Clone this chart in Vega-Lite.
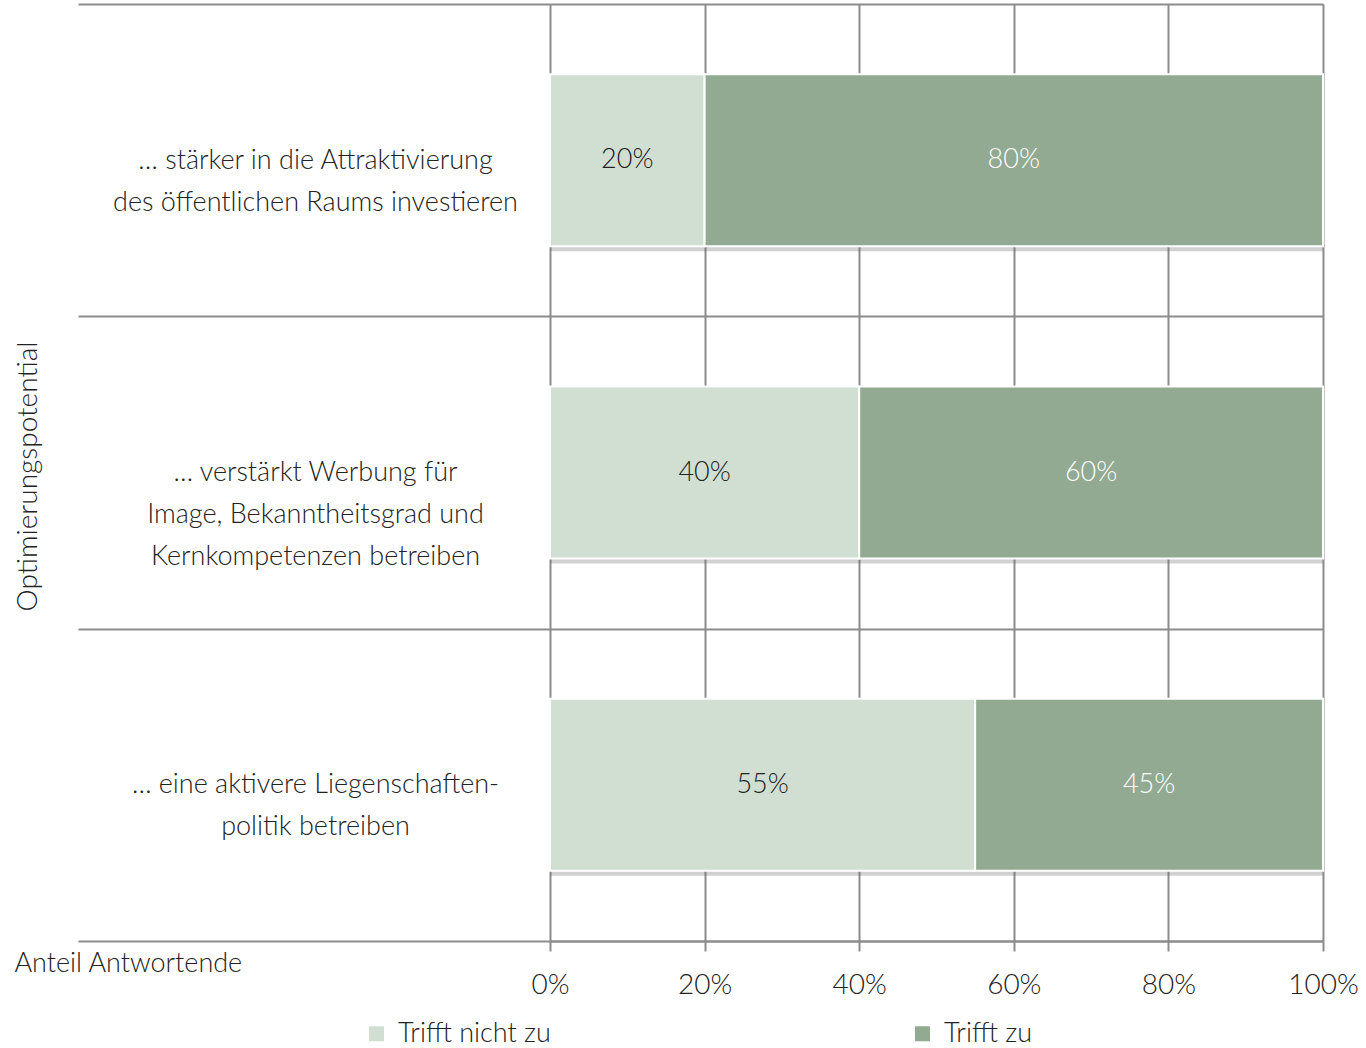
{
  "$schema": "https://vega.github.io/schema/vega-lite/v6.json",
  "autosize": {"type": "none"},
  "padding": {"left": 550, "top": 4, "right": 43, "bottom": 107},
  "width": 773,
  "height": 937,
  "background": "white",
  "config": {
    "font": "Lato",
    "view": {"stroke": null},
    "text": {"font": "Lato"}
  },
  "data": {
    "values": [
      {"Item": "… stärker in die Attraktivierung\ndes öffentlichen Raums investieren", "Antwort": "Trifft nicht zu", "Anteil": 0.20},
      {"Item": "… stärker in die Attraktivierung\ndes öffentlichen Raums investieren", "Antwort": "Trifft zu", "Anteil": 0.80},
      {"Item": "… verstärkt Werbung für\nImage, Bekanntheitsgrad und\nKernkompetenzen betreiben", "Antwort": "Trifft nicht zu", "Anteil": 0.40},
      {"Item": "… verstärkt Werbung für\nImage, Bekanntheitsgrad und\nKernkompetenzen betreiben", "Antwort": "Trifft zu", "Anteil": 0.60},
      {"Item": "… eine aktivere Liegenschaften-\npolitik betreiben", "Antwort": "Trifft nicht zu", "Anteil": 0.55},
      {"Item": "… eine aktivere Liegenschaften-\npolitik betreiben", "Antwort": "Trifft zu", "Anteil": 0.45}
    ]
  },
  "encoding": {
    "y": {
      "field": "Item",
      "type": "nominal",
      "sort": null,
      "scale": {"paddingInner": 0, "paddingOuter": 0},
      "axis": {
        "title": "Optimierungspotential",
        "titleFont": "Lato",
        "titleFontWeight": 300,
        "titleFontSize": 28,
        "titleColor": "#222",
        "titleX": -522,
        "titleY": 472,
        "titleAngle": -90,
        "titleAlign": "center",
        "titleBaseline": "middle",
        "labelExpr": "split(datum.label, '\\n')",
        "labelFont": "Lato",
        "labelFontWeight": 300,
        "labelFontSize": 27,
        "labelColor": "#222",
        "labelAlign": "center",
        "labelLineHeight": 42,
        "labelLimit": 0,
        "labelPadding": -237,
        "encoding": {
          "labels": {
            "dy": {"signal": "indexof(datum.value, 'Werbung') >= 0 ? -42 : -21"}
          }
        },
        "tickBand": "extent",
        "tickSize": 472,
        "tickColor": "#8c8c8c",
        "tickWidth": 2,
        "grid": true,
        "gridColor": "#8c8c8c",
        "gridWidth": 2,
        "domain": false
      }
    }
  },
  "layer": [
    {
      "mark": {"type": "bar", "color": "#666666", "opacity": 0.3, "size": 172, "yOffset": 5},
      "encoding": {
        "x": {"field": "Anteil", "type": "quantitative", "stack": "zero"},
        "detail": {"field": "Antwort"}
      }
    },
    {
      "mark": {"type": "bar", "stroke": "white", "strokeWidth": 2, "size": 172},
      "encoding": {
        "x": {
          "field": "Anteil",
          "type": "quantitative",
          "stack": "zero",
          "scale": {"domain": [0, 1], "nice": false},
          "axis": {
            "values": [0, 0.2, 0.4, 0.6, 0.8, 1],
            "format": "~%",
            "title": "Anteil Antwortende",
            "titleFont": "Lato",
            "titleFontWeight": 300,
            "titleFontSize": 27,
            "titleColor": "#222",
            "titleX": -536,
            "titleY": 30,
            "titleAlign": "left",
            "titleBaseline": "alphabetic",
            "titleAnchor": null,
            "labelFont": "Lato",
            "labelFontWeight": 300,
            "labelFontSize": 28,
            "labelColor": "#222",
            "labelPadding": 20,
            "labelFlush": false,
            "tickSize": 10,
            "tickColor": "#8c8c8c",
            "tickWidth": 2,
            "domainColor": "#8c8c8c",
            "domainWidth": 2,
            "grid": true,
            "gridColor": "#8c8c8c",
            "gridWidth": 2
          }
        },
        "color": {
          "field": "Antwort",
          "type": "nominal",
          "scale": {"domain": ["Trifft nicht zu", "Trifft zu"], "range": ["#d0dfd2", "#91aa91"]},
          "legend": {
            "title": null,
            "orient": "none",
            "legendX": -187,
            "legendY": 1016,
            "direction": "horizontal",
            "columns": 2,
            "columnPadding": 358,
            "symbolType": "square",
            "symbolSize": 225,
            "symbolStrokeWidth": 0,
            "labelFont": "Lato",
            "labelFontWeight": 300,
            "labelFontSize": 27,
            "labelColor": "#222",
            "labelOffset": 8
          }
        }
      }
    },
    {
      "mark": {"type": "text", "font": "Lato", "fontWeight": 300, "fontSize": 27, "baseline": "middle", "align": "center"},
      "encoding": {
        "x": {"field": "Anteil", "type": "quantitative", "stack": "zero", "bandPosition": 0.5},
        "text": {"field": "Anteil", "type": "quantitative", "format": ".0%"},
        "color": {
          "field": "Antwort",
          "type": "nominal",
          "scale": {"domain": ["Trifft nicht zu", "Trifft zu"], "range": ["#222222", "#ffffff"]},
          "legend": null
        }
      }
    }
  ],
  "resolve": {"scale": {"color": "independent"}}
}
